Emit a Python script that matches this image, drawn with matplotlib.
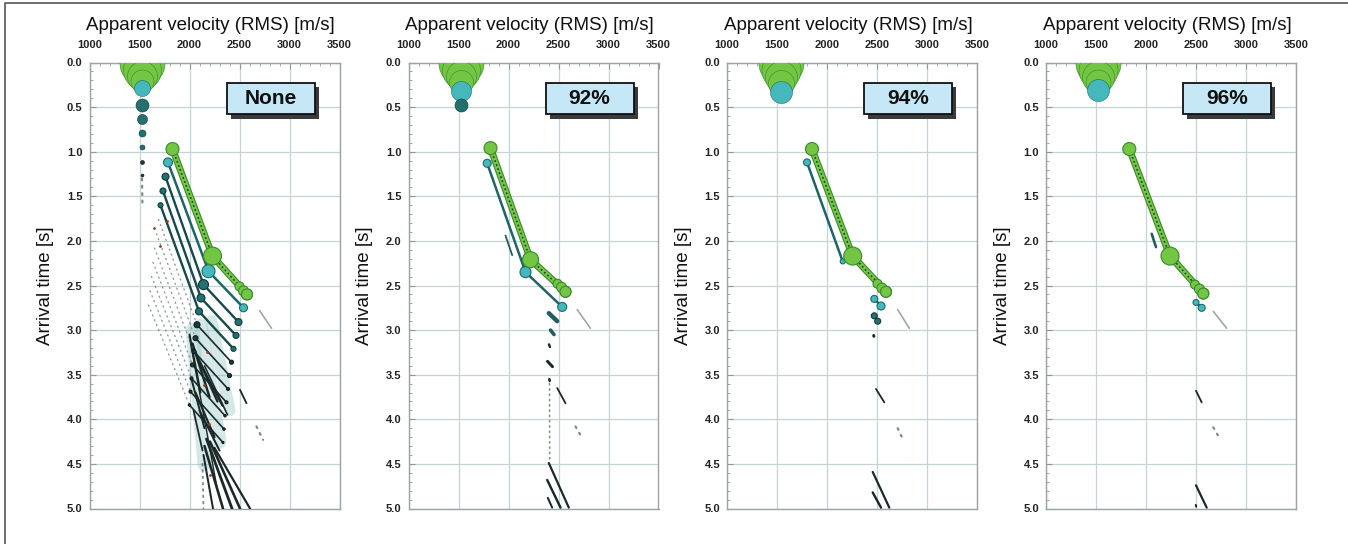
import matplotlib
matplotlib.use("Agg")
import matplotlib.pyplot as plt
from matplotlib.patches import Rectangle
from matplotlib.lines import Line2D
from matplotlib.ticker import MultipleLocator

plt.rcParams['font.family'] = ['Liberation Sans', 'DejaVu Sans']

panel_labels = ["None", "92%", "94%", "96%"]
vel_ticks = [1000, 1500, 2000, 2500, 3000, 3500]
time_ticks = [0.0, 0.5, 1.0, 1.5, 2.0, 2.5, 3.0, 3.5, 4.0, 4.5, 5.0]

# direct arrivals at the top of each panel: (type, velocity, time, amplitude)
none_column = [("primary", 1525, 0.00, 22.5), ("primary", 1525, 0.08, 19), ("primary", 1525, 0.15, 15),
               ("primary", 1525, 0.21, 11.5), ("ghost", 1525, 0.29, 8), ("multiple", 1525, 0.48, 6.5),
               ("multiple", 1525, 0.63, 5), ("multiple", 1525, 0.79, 3.5), ("multiple", 1525, 0.95, 2.5),
               ("deep", 1525, 1.12, 2), ("deep", 1525, 1.26, 1.5)]
p92_column = [("primary", 1520, 0.00, 22.5), ("primary", 1520, 0.08, 19), ("primary", 1520, 0.15, 15),
              ("primary", 1520, 0.22, 12), ("ghost", 1520, 0.32, 10), ("multiple", 1520, 0.48, 6.5)]
p94_column = [("primary", 1540, 0.00, 22.5), ("primary", 1540, 0.08, 19.5), ("primary", 1540, 0.16, 16),
              ("primary", 1540, 0.23, 13), ("ghost", 1540, 0.33, 11)]
p96_column = [("primary", 1515, 0.00, 22.5), ("primary", 1515, 0.08, 19.5), ("primary", 1515, 0.16, 16),
              ("primary", 1515, 0.22, 12.5), ("ghost", 1520, 0.31, 11)]

# reflection events: (type, [(velocity, time, amplitude), ...])
none_events = [
    ("deep", [(1590, 2.72, 0.6), (2000, 3.84, 1.2), (2335, 4.26, 1.0)]),
    ("deep", [(1605, 2.56, 0.6), (2010, 3.69, 1.5), (2345, 4.11, 1.2)]),
    ("deep", [(1620, 2.40, 0.6), (2020, 3.54, 1.5), (2355, 3.96, 1.2)]),
    ("deep", [(1635, 2.24, 0.7), (2030, 3.39, 2.0), (2370, 3.81, 1.5)]),
    ("deep", [(1650, 2.08, 0.8), (2045, 3.24, 2.0), (2385, 3.66, 1.5)]),
    ("deep", [(1670, 1.92, 1.0), (2060, 3.09, 2.5), (2400, 3.51, 2.0)]),
    ("deep", [(1690, 1.76, 1.5), (2075, 2.94, 3.0), (2420, 3.36, 2.0)]),
    ("multiple", [(1710, 1.60, 2.5), (2095, 2.79, 3.5), (2440, 3.21, 2.5)]),
    ("multiple", [(1735, 1.44, 3.0), (2115, 2.64, 4.0), (2465, 3.06, 3.0)]),
    ("multiple", [(1760, 1.28, 3.5), (2140, 2.49, 5.0), (2490, 2.91, 3.5)]),
    ("ghost", [(1785, 1.12, 4.5), (2190, 2.34, 6.5), (2540, 2.75, 4.0)]),
    ("primary", [(1830, 0.97, 6.5), (2230, 2.17, 9.0), (2575, 2.60, 5.5)]),
    ("primary", [(2500, 2.51, 4.5), (2540, 2.56, 5.0), (2575, 2.60, 5.5)]),
]
p92_events = [
    ("ghost", [(1787, 1.13, 4.0), (2170, 2.35, 5.5), (2537, 2.74, 4.5)]),
    ("primary", [(1820, 0.96, 6.5), (2220, 2.21, 8.0), (2570, 2.57, 5.5)]),
    ("primary", [(2490, 2.48, 4.5), (2530, 2.52, 5.0), (2570, 2.57, 5.5)]),
]
p94_events = [
    ("ghost", [(1800, 1.12, 3.5), (2157, 2.23, 2.5)]),
    ("primary", [(1850, 0.97, 6.5), (2257, 2.17, 9.0), (2590, 2.57, 5.5)]),
    ("primary", [(2505, 2.48, 4.5), (2550, 2.53, 5.0), (2590, 2.57, 5.5)]),
    ("ghost", [(2473, 2.65, 3.5), (2540, 2.73, 4.0)]),
    ("multiple", [(2473, 2.84, 3.0), (2507, 2.90, 3.0)]),
]
p96_events = [
    ("primary", [(1833, 0.97, 6.5), (2240, 2.17, 9.0), (2573, 2.59, 5.5)]),
    ("primary", [(2490, 2.49, 4.5), (2535, 2.54, 5.0), (2573, 2.59, 5.5)]),
    ("ghost", [(2500, 2.69, 3.0), (2557, 2.75, 3.5)]),
]

# residual streaks after filtering: (type, [(velocity, time, half width), ...])
none_streaks = [
    ("haze", [(2030, 3.00, 7), (2150, 4.50, 7)]),
    ("haze", [(2110, 2.95, 7), (2300, 4.25, 7)]),
    ("haze", [(2220, 2.90, 6), (2400, 3.90, 6)]),
    ("residual", [(2005, 3.11, 0.7), (2272, 4.75, 0.7)]),
    ("residual", [(2000, 3.05, 1.0), (2110, 3.70, 1.0)]),
    ("residual", [(2030, 3.15, 1.2), (2200, 3.75, 1.2)]),
    ("residual", [(2060, 3.25, 1.2), (2280, 3.80, 1.2)]),
    ("residual", [(2100, 3.35, 1.0), (2330, 3.85, 1.0)]),
    ("residual", [(2150, 3.40, 0.8), (2380, 3.95, 0.8)]),
    ("residual", [(2020, 3.55, 1.0), (2150, 4.10, 1.0)]),
    ("residual", [(2060, 3.70, 1.1), (2250, 4.20, 1.1)]),
    ("residual", [(2100, 3.90, 1.0), (2300, 4.35, 1.0)]),
    ("residual", [(2040, 3.90, 0.9), (2130, 4.35, 0.9)]),
    ("residual", [(2140, 4.40, 1.0), (2235, 5.00, 1.0)]),
    ("residual", [(2150, 4.30, 1.3), (2335, 5.00, 1.3)]),
    ("residual", [(2170, 4.22, 1.4), (2425, 5.00, 1.4)]),
    ("residual", [(2205, 4.25, 1.3), (2505, 5.00, 1.3)]),
    ("residual", [(2250, 4.32, 1.1), (2605, 5.00, 1.1)]),
    ("residual", [(2505, 3.67, 0.9), (2570, 3.82, 0.9)]),
    ("weak", [(2700, 2.78, 0.8), (2820, 2.98, 0.8)]),
    ("noise", [(2670, 4.08, 0.7), (2735, 4.23, 0.7)]),
    ("noise", [(1525, 1.30, 0.7), (1530, 1.62, 0.7)]),
    ("noise", [(2130, 4.50, 0.6), (2140, 5.00, 0.6)]),
]
p92_streaks = [
    ("multiple", [(1970, 1.94, 0.9), (2037, 2.16, 0.9)]),
    ("multiple", [(2403, 2.81, 2.2), (2487, 2.90, 2.2)]),
    ("multiple", [(2420, 3.00, 1.8), (2455, 3.05, 1.8)]),
    ("residual", [(2405, 3.16, 1.2), (2415, 3.19, 1.2)]),
    ("residual", [(2390, 3.35, 1.5), (2440, 3.41, 1.5)]),
    ("residual", [(2408, 3.55, 1.3), (2412, 3.57, 1.3)]),
    ("residual", [(2487, 3.65, 0.9), (2570, 3.82, 0.9)]),
    ("weak", [(2687, 2.77, 0.8), (2820, 2.98, 0.8)]),
    ("noise", [(2670, 4.08, 0.7), (2737, 4.21, 0.7)]),
    ("noise", [(2410, 3.60, 0.5), (2412, 4.45, 0.5)]),
    ("residual", [(2403, 4.49, 1.1), (2603, 4.99, 1.1)]),
    ("residual", [(2387, 4.68, 1.2), (2520, 4.99, 1.2)]),
    ("residual", [(2393, 4.88, 1.0), (2437, 4.99, 1.0)]),
]
p94_streaks = [
    ("residual", [(2467, 3.06, 1.5), (2469, 3.07, 1.5)]),
    ("residual", [(2490, 3.66, 0.9), (2573, 3.81, 0.9)]),
    ("weak", [(2707, 2.77, 0.8), (2823, 2.98, 0.8)]),
    ("noise", [(2707, 4.10, 0.7), (2757, 4.22, 0.7)]),
    ("residual", [(2457, 4.59, 1.1), (2623, 4.99, 1.1)]),
    ("residual", [(2457, 4.82, 1.2), (2540, 4.99, 1.2)]),
]
p96_streaks = [
    ("multiple", [(2057, 1.92, 1.3), (2100, 2.07, 1.3)]),
    ("weak", [(2673, 2.79, 0.8), (2807, 2.98, 0.8)]),
    ("residual", [(2500, 3.68, 0.9), (2557, 3.81, 0.9)]),
    ("noise", [(2673, 4.09, 0.7), (2740, 4.22, 0.7)]),
    ("residual", [(2500, 4.74, 1.1), (2607, 4.99, 1.1)]),
    ("residual", [(2498, 4.96, 1.0), (2502, 4.98, 1.0)]),
]

# isolated red samples in the unfiltered gather
none_specks_v = [1645, 1700, 1775, 2170, 2195, 2205, 2140]
none_specks_t = [1.86, 2.06, 1.78, 3.24, 4.05, 4.62, 3.62]

columns = [none_column, p92_column, p94_column, p96_column]
events = [none_events, p92_events, p94_events, p96_events]
streaks = [none_streaks, p92_streaks, p94_streaks, p96_streaks]

face = {"primary": "#72c644", "ghost": "#45b8bb", "multiple": "#23706f", "deep": "#1f3b3b"}
edge = {"primary": "#3a8a2e", "ghost": "#1c6a6b", "multiple": "#0f3a3a", "deep": "#0d2020"}
line_col = {"ghost": "#1d6566", "multiple": "#17494a", "deep": "#1c2a2a"}
line_w = {"ghost": 1.8, "multiple": 1.7, "deep": 1.2}
streak_col = {"haze": "#86bfbf", "residual": "#1b2828", "weak": "#9aa6a6",
              "noise": "#4a5a5a", "multiple": "#1f5f60"}

PX = 0.72  # points per pixel at 100 dpi


def bubble_size(amp):
    return (2 * amp * PX) ** 2


def draw_event(ax, kind, pts):
    v = [p[0] for p in pts]
    t = [p[1] for p in pts]
    a = [p[2] for p in pts]
    if kind == "primary":
        ax.plot(v, t, color="#3a8a2c", lw=5.0, solid_capstyle="round", zorder=4)
        ax.plot(v, t, color="#74c846", lw=3.4, solid_capstyle="round", zorder=4)
        ax.plot(v, t, color="#1d3d1a", lw=1.1, ls=(0, (1.2, 1.6)), zorder=4)
    elif kind == "deep":
        # weak steep leg shows only as scattered samples
        ax.plot(v[:2], t[:2], color="#4a5a5a", lw=1.0, alpha=0.6, ls=(0, (0.8, 3)),
                dash_capstyle="round", zorder=3)
        ax.plot(v[1:], t[1:], color=line_col[kind], lw=line_w[kind], solid_capstyle="round", zorder=3)
        v, t, a = v[1:], t[1:], a[1:]
    else:
        ax.plot(v, t, color=line_col[kind], lw=line_w[kind], solid_capstyle="round", zorder=3)
    ax.scatter(v, t, s=[bubble_size(x) for x in a], c=face[kind], edgecolors=edge[kind],
               linewidths=0.8, zorder=5)


def draw_streak(ax, kind, pts):
    v = [p[0] for p in pts]
    t = [p[1] for p in pts]
    w = 2 * pts[0][2] * PX
    if kind == "haze":
        ax.plot(v, t, color=streak_col[kind], lw=w, alpha=0.35, solid_capstyle="round", zorder=2)
    elif kind == "noise":
        ax.plot(v, t, color=streak_col[kind], lw=w * 1.6, alpha=0.7, ls=(0, (0.8, 2.5)),
                dash_capstyle="round", zorder=2)
    else:
        ax.plot(v, t, color=streak_col[kind], lw=w, solid_capstyle="round", zorder=3)


fig = plt.figure(figsize=(13.48, 5.44), dpi=100)
W, H = 1348.0, 544.0
lefts = [89.5, 408.5, 727.0, 1046.0]
ax_top, ax_bot, ax_w = 62.5, 508.5, 250.0

for i, label in enumerate(panel_labels):
    ax = fig.add_axes([lefts[i] / W, 1 - ax_bot / H, ax_w / W, (ax_bot - ax_top) / H])
    ax.set_xlim(1000, 3500)
    ax.set_ylim(5.0, 0.0)
    ax.xaxis.tick_top()
    ax.set_xticks(vel_ticks)
    ax.set_yticks(time_ticks)
    ax.set_yticklabels([f"{x:.1f}" for x in time_ticks])
    ax.xaxis.set_minor_locator(MultipleLocator(100))
    ax.yaxis.set_minor_locator(MultipleLocator(0.1))
    ax.tick_params(which="both", direction="in", color="#8c9799", labelsize=8)
    ax.tick_params(which="major", length=4, width=0.8)
    ax.tick_params(which="minor", length=2.5, width=0.6)
    ax.tick_params(axis="x", pad=9)
    ax.tick_params(axis="y", pad=5)
    for lab in ax.get_xticklabels() + ax.get_yticklabels():
        lab.set_fontweight("bold")
        lab.set_color("#222222")
    ax.grid(True, which="major", color="#c6d4d7", lw=0.9)
    ax.set_axisbelow(True)
    for sp in ax.spines.values():
        sp.set_color("#9aa4a6")
        sp.set_linewidth(1.0)

    ax.text(0.485, 1.063, "Apparent velocity (RMS) [m/s]", transform=ax.transAxes,
            ha="center", va="bottom", fontsize=13.5, color="#111111")
    ax.text(-0.175, 0.5, "Arrival time [s]", transform=ax.transAxes, rotation=90,
            ha="center", va="center", fontsize=13.5, color="#111111")

    for kind, pts in streaks[i]:
        draw_streak(ax, kind, pts)
    for kind, pts in events[i]:
        draw_event(ax, kind, pts)
    for kind, v, t, a in columns[i]:
        ax.scatter([v], [t], s=bubble_size(a), c=face[kind], edgecolors=edge[kind],
                   linewidths=0.4, zorder=6)
    if i == 0:
        ax.scatter(none_specks_v, none_specks_t, s=4, c="#9a3a26", linewidths=0, zorder=4)

    # filter label box with drop shadow
    bx, by, bw, bh = 0.548, 0.8835, 0.352, 0.0715
    ax.add_patch(Rectangle((bx + 0.016, by - 0.010), bw, bh, transform=ax.transAxes,
                           facecolor="#3a3a3a", edgecolor="none", zorder=8))
    ax.add_patch(Rectangle((bx, by), bw, bh, transform=ax.transAxes,
                           facecolor="#c6e7f5", edgecolor="#111111", lw=1.3, zorder=9))
    ax.text(bx + bw / 2, by + bh / 2, label, transform=ax.transAxes, ha="center",
            va="center", fontsize=15, fontweight="bold", color="#111111", zorder=10)

# outer frame lines (top and left)
fig.add_artist(Line2D([5 / W, 5 / W, 1.0], [0.0, 1 - 3 / H, 1 - 3 / H],
                      transform=fig.transFigure, color="#555555", lw=1.2))

fig.savefig("out.png", dpi=100)
